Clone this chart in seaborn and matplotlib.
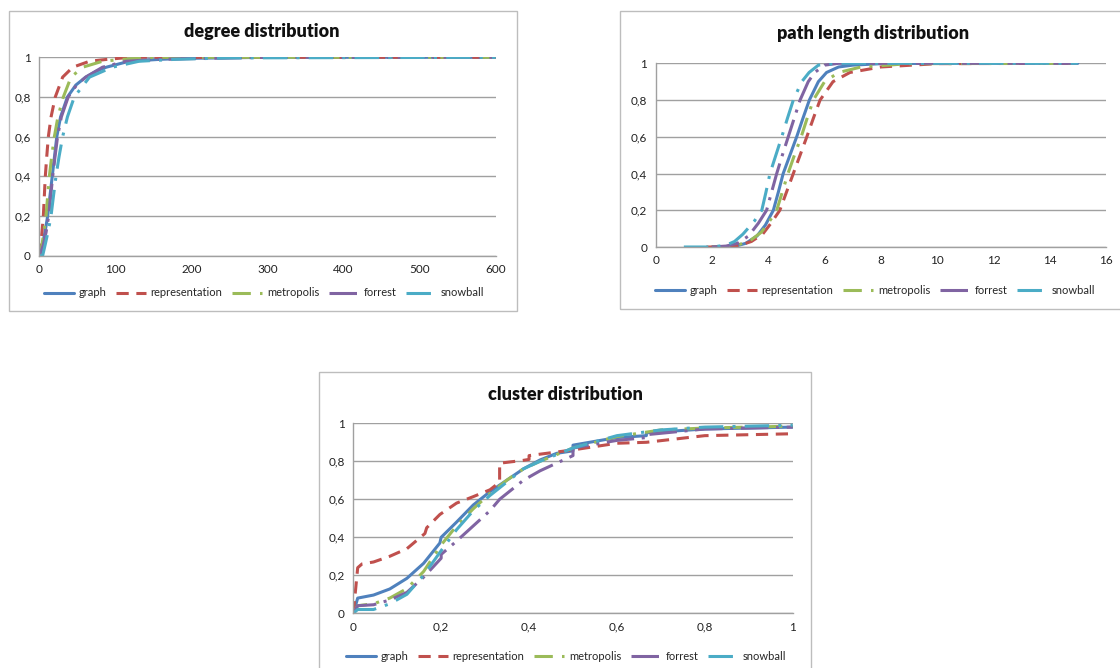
import matplotlib
matplotlib.use('Agg')
import matplotlib.pyplot as plt
from matplotlib.patches import Rectangle
import seaborn as sns

# ---------------------------------------------------------------------
# Data (cumulative distributions)
# ---------------------------------------------------------------------
series_names = ['graph', 'representation', 'metropolis', 'forrest', 'snowball']

# degree distribution
deg_graph_x = [0, 4, 8, 11, 14, 17, 20, 23, 28, 37, 48, 61, 75, 88, 118, 160, 200, 300, 600]
deg_graph_y = [0, 0.05, 0.13, 0.2, 0.3, 0.4, 0.5, 0.6, 0.7, 0.8, 0.86, 0.9, 0.93, 0.95, 0.98, 0.99, 0.995, 1, 1]
deg_rep_x = [0, 2, 4, 5.3, 6.6, 7.9, 9.8, 11.9, 15.5, 21, 30.7, 44, 66, 90, 120, 600]
deg_rep_y = [0, 0.06, 0.14, 0.2, 0.3, 0.4, 0.5, 0.6, 0.7, 0.8, 0.9, 0.95, 0.98, 0.99, 1, 1]
deg_met_x = [0, 3, 6, 8.8, 11, 13.2, 16.3, 19.8, 24.5, 31.6, 41.7, 57, 83, 110, 150, 600]
deg_met_y = [0, 0.04, 0.12, 0.2, 0.3, 0.4, 0.5, 0.6, 0.7, 0.8, 0.9, 0.95, 0.98, 0.99, 1, 1]
deg_for_x = [0, 5, 9, 12.3, 15, 17.6, 20.7, 24, 29, 38, 49, 61, 83, 114, 160, 220, 300, 600]
deg_for_y = [0, 0.05, 0.12, 0.2, 0.3, 0.4, 0.5, 0.6, 0.7, 0.8, 0.86, 0.9, 0.95, 0.98, 0.99, 0.995, 1, 1]
deg_snow_x = [0, 4.4, 8, 12, 15.4, 18.6, 21.9, 26, 30.7, 37, 46, 66, 96, 131, 180, 250, 600]
deg_snow_y = [0, 0, 0.06, 0.13, 0.2, 0.3, 0.4, 0.5, 0.6, 0.7, 0.8, 0.9, 0.95, 0.98, 0.99, 0.997, 1]

# path length distribution
pl_graph_x = [2, 2.5, 2.8, 3.2, 3.6, 3.9, 4.18, 4.36, 4.53, 4.77, 5.01, 5.23, 5.46, 5.78, 6.07, 6.5, 7, 8, 10, 15]
pl_graph_y = [0, 0, 0.003, 0.02, 0.06, 0.12, 0.2, 0.3, 0.4, 0.5, 0.6, 0.7, 0.8, 0.9, 0.95, 0.98, 0.99, 0.998, 1, 1]
pl_rep_x = [1.8, 2.5, 3.0, 3.4, 3.8, 4.1, 4.41, 4.65, 4.89, 5.13, 5.37, 5.6, 5.84, 6.3, 6.9, 8, 10, 15]
pl_rep_y = [0, 0, 0.01, 0.03, 0.07, 0.13, 0.2, 0.3, 0.4, 0.5, 0.6, 0.7, 0.8, 0.9, 0.95, 0.98, 0.998, 1]
pl_met_x = [2, 2.6, 3.0, 3.4, 3.75, 4.0, 4.3, 4.5, 4.7, 4.93, 5.17, 5.38, 5.6, 6.0, 6.5, 7.3, 9, 15]
pl_met_y = [0, 0, 0.015, 0.04, 0.08, 0.13, 0.2, 0.3, 0.4, 0.5, 0.6, 0.7, 0.8, 0.9, 0.95, 0.98, 0.998, 1]
pl_for_x = [2, 2.5, 2.9, 3.3, 3.65, 3.94, 4.12, 4.3, 4.5, 4.71, 4.92, 5.13, 5.42, 5.65, 6.0, 6.5, 15]
pl_for_y = [0, 0.005, 0.02, 0.06, 0.13, 0.2, 0.3, 0.4, 0.5, 0.6, 0.7, 0.8, 0.9, 0.95, 0.99, 1, 1]
pl_snow_x = [1, 2, 2.5, 2.8, 3.1, 3.5, 3.77, 3.92, 4.06, 4.27, 4.48, 4.68, 4.89, 5.19, 5.45, 5.78, 6.5, 15]
pl_snow_y = [0, 0, 0.01, 0.03, 0.07, 0.14, 0.2, 0.3, 0.4, 0.5, 0.6, 0.7, 0.8, 0.9, 0.95, 0.99, 1, 1]

# cluster distribution
cl_graph_x = [0, 0.01, 0.046, 0.083, 0.122, 0.16, 0.197, 0.2, 0.235, 0.273, 0.311, 0.349, 0.387, 0.425,
              0.463, 0.5, 0.5, 0.6, 0.667, 0.667, 0.8, 1]
cl_graph_y = [0, 0.08, 0.096, 0.128, 0.184, 0.263, 0.37, 0.4, 0.48, 0.57, 0.64, 0.70, 0.76, 0.807,
              0.842, 0.855, 0.885, 0.925, 0.935, 0.95, 0.97, 0.98]
cl_rep_x = [0, 0.01, 0.02, 0.046, 0.083, 0.122, 0.163, 0.167, 0.197, 0.235, 0.273, 0.311, 0.333, 0.333,
            0.387, 0.4, 0.4, 0.5, 0.6, 0.667, 0.8, 1]
cl_rep_y = [0, 0.24, 0.26, 0.27, 0.30, 0.34, 0.42, 0.45, 0.52, 0.58, 0.614, 0.65, 0.69, 0.79,
            0.805, 0.81, 0.83, 0.86, 0.895, 0.90, 0.935, 0.945]
cl_met_x = [0, 0.01, 0.046, 0.083, 0.122, 0.16, 0.2, 0.235, 0.273, 0.311, 0.349, 0.387, 0.425, 0.5,
            0.6, 0.7, 0.8, 1]
cl_met_y = [0, 0.04, 0.05, 0.08, 0.13, 0.22, 0.36, 0.46, 0.55, 0.63, 0.70, 0.76, 0.80, 0.87,
            0.93, 0.965, 0.975, 0.985]
cl_for_x = [0, 0.01, 0.046, 0.083, 0.122, 0.16, 0.2, 0.2, 0.235, 0.273, 0.311, 0.333, 0.387, 0.425,
            0.5, 0.5, 0.6, 0.667, 0.667, 0.8, 1]
cl_for_y = [0, 0.04, 0.045, 0.07, 0.11, 0.19, 0.29, 0.31, 0.38, 0.46, 0.54, 0.60, 0.70, 0.75,
            0.83, 0.87, 0.91, 0.925, 0.94, 0.97, 0.98]
cl_snow_x = [0, 0.01, 0.046, 0.083, 0.122, 0.16, 0.2, 0.235, 0.273, 0.311, 0.349, 0.387, 0.425, 0.5,
             0.6, 0.7, 0.8, 1]
cl_snow_y = [0, 0.02, 0.02, 0.05, 0.10, 0.20, 0.33, 0.44, 0.54, 0.62, 0.69, 0.76, 0.80, 0.87,
             0.935, 0.965, 0.98, 0.99]

# tick labels (Excel, comma decimals)
y_ticks = [0, 0.2, 0.4, 0.6, 0.8, 1]
y_tick_labels = ['0', '0,2', '0,4', '0,6', '0,8', '1']
deg_x_ticks = [0, 100, 200, 300, 400, 500, 600]
pl_x_ticks = [0, 2, 4, 6, 8, 10, 12, 14, 16]
cl_x_ticks = [0, 0.2, 0.4, 0.6, 0.8, 1]
cl_x_tick_labels = ['0', '0,2', '0,4', '0,6', '0,8', '1']

# ---------------------------------------------------------------------
# Styling
# ---------------------------------------------------------------------
sns.set_style('white')
plt.rcParams['font.family'] = ['Lato', 'DejaVu Sans']

colors = ['#4F81BD', '#C0504D', '#9BBB59', '#8064A2', '#4BACC6']
styles = ['-', (0, (4, 2.5)), (0, (6, 3, 1, 3)), (0, (9, 2.5, 1, 2.5)), (0, (8, 3, 1, 3))]
grid_c = '#a0a0a0'
frame_c = '#bdbdbd'

W, H = 1120, 668
fig = plt.figure(figsize=(W / 100, H / 100), dpi=100)


def px_axes(x0, y0, x1, y1):
    """axes from pixel box (top-left origin)"""
    return fig.add_axes([x0 / W, 1 - y1 / H, (x1 - x0) / W, (y1 - y0) / H])


def px_frame(x0, y0, x1, y1):
    fig.patches.append(Rectangle((x0 / W, 1 - y1 / H), (x1 - x0) / W, (y1 - y0) / H,
                                 transform=fig.transFigure, fill=False,
                                 edgecolor=frame_c, lw=1.0))


def draw_panel(ax, data, title, xlim, xticks, xlabels, title_xy, leg_xy):
    for (xs, ys), name, c, ls in zip(data, series_names, colors, styles):
        sns.lineplot(x=xs, y=ys, ax=ax, color=c, linestyle=ls, lw=2.2,
                     sort=False, estimator=None, label=name)
    ax.set_xlim(*xlim)
    ax.set_ylim(0, 1)
    ax.set_xticks(xticks)
    ax.set_xticklabels(xlabels)
    ax.set_yticks(y_ticks)
    ax.set_yticklabels(y_tick_labels)
    ax.tick_params(length=0, labelsize=8.5, colors='#222222', pad=6)
    ax.set_xlabel('')
    ax.set_ylabel('')
    ax.yaxis.grid(True, color=grid_c, lw=1.0)
    ax.xaxis.grid(False)
    for side in ['top', 'right']:
        ax.spines[side].set_visible(False)
    for side in ['left', 'bottom']:
        ax.spines[side].set_color(grid_c)
        ax.spines[side].set_linewidth(1.0)
    ax.set_axisbelow(True)
    fig.text(title_xy[0] / W, 1 - title_xy[1] / H, title, ha='center', va='center',
             fontsize=13, fontweight='heavy', color='#111111')
    ax.legend(loc='center', bbox_to_anchor=(leg_xy[0] / W, 1 - leg_xy[1] / H),
              bbox_transform=fig.transFigure, ncol=5, frameon=False, fontsize=8,
              handlelength=2.7, handletextpad=0.4, columnspacing=0.9,
              borderpad=0.2)


# frames round each chart
px_frame(9, 11, 517, 311)
px_frame(620, 11, 1125, 309)
px_frame(319, 372, 811, 672)

# degree distribution
ax1 = px_axes(39.3, 57.3, 495.7, 255.7)
draw_panel(ax1,
           [(deg_graph_x, deg_graph_y), (deg_rep_x, deg_rep_y), (deg_met_x, deg_met_y),
            (deg_for_x, deg_for_y), (deg_snow_x, deg_snow_y)],
           'degree distribution', (0, 600), deg_x_ticks, [str(t) for t in deg_x_ticks],
           (262, 32), (264, 293))

# path length distribution
ax2 = px_axes(655.7, 63.3, 1106, 247)
draw_panel(ax2,
           [(pl_graph_x, pl_graph_y), (pl_rep_x, pl_rep_y), (pl_met_x, pl_met_y),
            (pl_for_x, pl_for_y), (pl_snow_x, pl_snow_y)],
           'path length distribution', (0, 16), pl_x_ticks, [str(t) for t in pl_x_ticks],
           (873, 34), (875, 290))

# cluster distribution
ax3 = px_axes(353.3, 423.3, 792.7, 613.3)
draw_panel(ax3,
           [(cl_graph_x, cl_graph_y), (cl_rep_x, cl_rep_y), (cl_met_x, cl_met_y),
            (cl_for_x, cl_for_y), (cl_snow_x, cl_snow_y)],
           'cluster distribution', (0, 1), cl_x_ticks, cl_x_tick_labels,
           (565, 395), (566, 656))

plt.savefig('out.png', dpi=100)
plt.close(fig)
